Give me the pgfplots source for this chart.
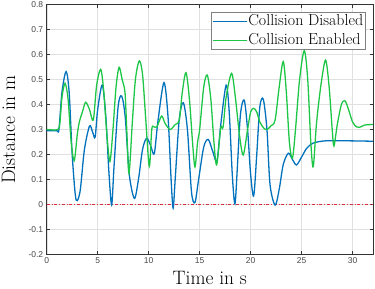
\documentclass[border=0pt]{standalone}
\usepackage{fontspec}
\usepackage{pgfplots}
\pgfplotsset{compat=1.18}
\usetikzlibrary{calc}
\newfontfamily\tickfont{Liberation Sans}
\definecolor{cblue}{RGB}{0,114,189}
\definecolor{cgreen}{RGB}{30,198,70}
\definecolor{cred}{RGB}{215,45,60}
\begin{document}
\begin{tikzpicture}
\begin{axis}[name=ax, scale only axis, width=326.3bp, height=249.6bp,
  xmin=0, xmax=32, ymin=-0.2, ymax=0.8,
  xtick={0,5,10,15,20,25,30},
  ytick={-0.2,-0.1,0,0.1,0.2,0.3,0.4,0.5,0.6,0.7,0.8},
  yticklabels={-0.2,-0.1,0,0.1,0.2,0.3,0.4,0.5,0.6,0.7,0.8},
  grid=major, major grid style={black!12, line width=0.4pt},
  axis line style={draw=black!80, line width=0.5pt},
  tick style={black!80, line width=0.5pt}, tick align=inside, major tick length=3bp,
  /pgf/number format/assume math mode=true,
  ticklabel style={font=\tickfont\fontsize{8.5}{10}\selectfont, text=black!72},
  xlabel={Time in s}, ylabel={Distance in m},
  label style={font=\fontsize{19.5}{22}\selectfont},
  xlabel style={at={(axis description cs:0.5,0)}, anchor=north, yshift=-17bp, inner sep=0pt},
  ylabel style={at={(axis description cs:-0.096,0.5)}, anchor=south, inner sep=0pt},
  legend style={at={(0.9755,0.971)}, anchor=north east, draw=black!50, line width=0.5pt,
    font=\fontsize{16}{19}\selectfont, inner xsep=1bp, inner ysep=2bp, row sep=3.5bp,
    nodes={inner sep=0.5bp, text height=11bp, text depth=3bp}},
  legend cell align=left,
  legend image code/.code={\path (0bp,0bp) -- (34bp,0bp); \draw[#1] (2bp,0bp) -- (32bp,0bp);},
]
\addplot[cred, line width=0.6pt, dash dot, forget plot] coordinates {(0,0) (32,0)};
\addplot[cblue, line width=1.3pt, smooth, tension=0.5] coordinates {
(0,0.295) (1.0,0.295) (1.2,0.30) (1.5,0.45) (1.9,0.532) (2.2,0.45) (2.5,0.2) (2.8,0.04) (3.0,0.015) (3.3,0.06) (3.7,0.22) (4.2,0.314) (4.5,0.29) (4.75,0.27) (5.0,0.38) (5.45,0.478) (5.8,0.35) (6.1,0.13) (6.37,-0.002) (6.6,0.15) (7.0,0.39) (7.35,0.434) (7.7,0.35) (8.1,0.12) (8.6,0.024) (9.0,0.10) (9.4,0.22) (9.8,0.265) (10.2,0.235) (10.55,0.203) (10.9,0.33) (11.5,0.488) (11.9,0.35) (12.2,0.1) (12.4,-0.015) (12.6,0.1) (13.0,0.34) (13.4,0.407) (13.8,0.3) (14.2,0.05) (14.54,0.008) (14.9,0.10) (15.4,0.23) (15.85,0.26) (16.3,0.21) (16.7,0.175) (17.1,0.33) (17.6,0.478) (17.9,0.37) (18.2,0.12) (18.46,0.002) (18.7,0.15) (19.0,0.36) (19.37,0.418) (19.7,0.3) (20.0,0.12) (20.3,0.034) (20.6,0.2) (20.9,0.39) (21.24,0.421) (21.6,0.3) (21.9,0.08) (22.4,-0.003) (22.8,0.06) (23.2,0.16) (23.7,0.205) (24.1,0.18) (24.5,0.158) (25.0,0.19) (25.5,0.225) (26.1,0.245) (26.8,0.252) (27.5,0.255) (29,0.255) (32,0.253)
};
\addlegendentry{Collision Disabled}
\addplot[cgreen, line width=1.3pt, smooth, tension=0.5] coordinates {
(0,0.30) (1.1,0.30) (1.3,0.33) (1.5,0.43) (1.8,0.485) (2.1,0.42) (2.4,0.25) (2.7,0.175) (3.0,0.28) (3.2,0.33) (3.5,0.37) (3.82,0.409) (4.2,0.38) (4.57,0.338) (4.9,0.478) (5.3,0.541) (5.6,0.45) (5.9,0.28) (6.2,0.172) (6.5,0.3) (6.8,0.47) (7.1,0.549) (7.4,0.5) (7.68,0.448) (7.85,0.3) (8.07,0.125) (8.4,0.33) (8.7,0.5) (9.08,0.575) (9.4,0.52) (9.7,0.35) (10.06,0.152) (10.3,0.3) (10.5,0.311) (10.8,0.31) (11.27,0.354) (11.6,0.325) (12.1,0.30) (12.6,0.32) (13.0,0.338) (13.3,0.45) (13.66,0.528) (14.0,0.42) (14.3,0.25) (14.54,0.15) (14.8,0.25) (15.0,0.30) (15.4,0.47) (15.75,0.518) (16.1,0.42) (16.4,0.25) (16.67,0.158) (17.06,0.305) (17.3,0.31) (17.6,0.43) (18.13,0.525) (18.5,0.43) (18.9,0.28) (19.27,0.198) (19.7,0.3) (20.0,0.37) (20.3,0.385) (20.6,0.37) (20.9,0.33) (21.3,0.305) (21.6,0.30) (22.0,0.315) (22.4,0.338) (22.8,0.47) (23.2,0.572) (23.5,0.45) (23.8,0.25) (24.1,0.185) (24.4,0.3) (24.8,0.5) (25.26,0.616) (25.6,0.5) (25.9,0.25) (26.14,0.151) (26.46,0.325) (26.9,0.48) (27.35,0.578) (27.7,0.47) (28.0,0.3) (28.17,0.234) (28.5,0.32) (28.9,0.4) (29.25,0.415) (29.6,0.38) (30.0,0.33) (30.4,0.31) (30.7,0.309) (31.2,0.318) (32,0.32)
};
\addlegendentry{Collision Enabled}
\end{axis}
\pgfresetboundingbox
\path ($(ax.south west)+(-46.7bp,-34.7bp)$) rectangle ($(ax.north east)+(2bp,4.7bp)$);
\end{tikzpicture}
\end{document}
